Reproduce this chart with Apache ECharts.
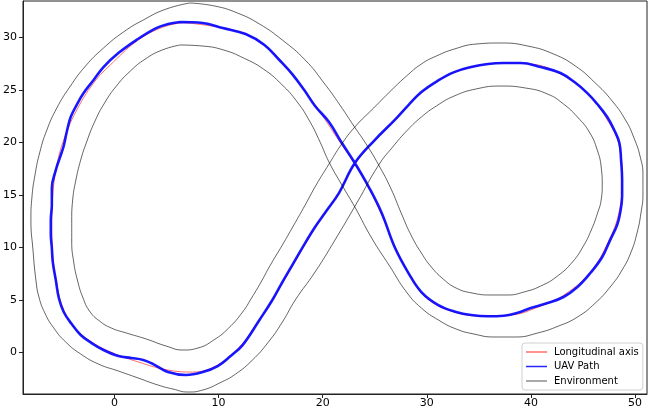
<!DOCTYPE html>
<html>
<head>
<meta charset="utf-8">
<script src="https://cdn.jsdelivr.net/npm/echarts@6/dist/echarts.min.js"></script>
<style>
html,body{margin:0;padding:0;background:#fff;}
#chart{width:648px;height:409px;}
</style>
</head>
<body>
<div id="chart"></div>
<script>
// Tick values
const xTicks = [0, 10, 20, 30, 40, 50];
const yTicks = [0, 5, 10, 15, 20, 25, 30];

// Longitudinal axis (track centre line)
const centerline = [
[6.58,31.43],[9.92,31.00],[12.79,30.24],[15.17,28.62],[17.08,26.43],[19.27,23.57],[21.85,19.76],[23.09,17.95],
[24.43,15.67],[25.67,13.10],[27.10,9.76],[28.53,7.10],[29.96,5.19],[32.35,3.95],[35.21,3.48],[38.07,3.57],
[40.94,4.43],[43.32,5.57],[45.71,7.67],[47.42,10.52],[48.47,13.38],[48.76,16.43],[48.47,19.76],[47.23,22.33],
[45.52,24.62],[43.03,26.43],[39.98,27.48],[37.12,27.57],[34.26,27.19],[31.87,26.33],[29.48,24.71],[27.10,22.33],
[25.00,20.14],[23.09,17.95],[21.56,15.19],[19.27,11.86],[17.27,8.52],[15.17,5.00],[13.74,2.81],[12.02,0.52],
[9.92,-1.19],[7.54,-1.86],[5.15,-1.67],[2.29,-0.90],[-0.57,0.14],[-2.48,1.19],[-3.91,2.43],[-4.87,4.05],
[-5.53,6.43],[-5.92,9.29],[-6.01,12.14],[-5.92,15.00],[-5.53,17.86],[-4.87,20.24],[-3.72,22.90],[-2.00,25.67],
[-0.10,27.67],[2.29,29.76],[4.68,31.00],[6.58,31.43]
];

// UAV path
const uavPath = [
[6.30,31.48],[8.49,31.38],[10.40,30.90],[12.60,30.33],[14.41,29.29],[15.84,27.86],[17.08,26.52],[18.23,25.00],
[19.27,23.48],[20.61,21.95],[21.85,19.95],[23.09,18.05],[24.43,15.76],[25.67,13.29],[26.91,10.05],[28.24,7.57],
[29.48,5.76],[31.11,4.52],[32.82,3.86],[34.26,3.57],[35.88,3.45],[37.40,3.50],[38.74,3.80],[39.98,4.24],
[41.60,4.71],[43.13,5.29],[44.47,6.24],[45.71,7.57],[46.85,9.10],[47.61,10.71],[48.28,12.14],[48.57,13.29],
[48.76,14.90],[48.76,16.43],[48.66,18.33],[48.50,19.95],[48.00,21.19],[47.33,22.43],[46.37,23.67],[45.42,24.71],
[44.18,25.76],[42.84,26.62],[40.94,27.19],[39.03,27.57],[37.40,27.57],[35.88,27.48],[34.26,27.19],[32.63,26.71],
[31.01,25.86],[29.48,24.81],[28.24,23.57],[26.91,22.14],[25.00,20.24],[23.09,18.05],[21.56,15.19],[20.42,13.57],
[19.27,11.95],[18.03,9.95],[17.08,8.33],[16.13,6.71],[15.17,5.00],[13.93,3.10],[12.31,0.71],[11.16,-0.33],
[9.92,-1.29],[8.49,-1.86],[6.87,-2.14],[5.15,-1.86],[3.72,-1.10],[2.77,-0.71],[1.62,-0.52],[0.38,-0.33],
[-1.05,0.24],[-2.19,0.90],[-3.24,1.67],[-4.10,2.71],[-4.87,3.86],[-5.34,5.19],[-5.63,6.90],[-5.92,8.62],
[-6.01,9.95],[-6.11,11.29],[-6.11,12.62],[-6.01,14.05],[-6.01,15.67],[-5.63,17.38],[-5.25,18.52],[-4.87,19.67],
[-4.58,21.00],[-4.20,22.43],[-3.63,23.57],[-2.96,24.71],[-2.00,25.95],[-1.05,27.19],[0.38,28.52],[2.10,29.76],
[4.01,30.90],[5.15,31.29],[6.30,31.48]
];

// Environment boundary: outer edge of left lobe joined to inner edge of right lobe
const envA = [
[7.25,33.29],[9.64,33.00],[11.83,32.33],[13.93,31.29],[16.13,29.76],[18.32,27.86],[20.13,25.67],[21.66,23.57],
[23.00,21.57],[24.24,19.76],[25.38,17.86],[26.53,15.67],[27.58,13.19],[28.53,11.10],[29.48,9.48],[30.44,8.14],
[31.58,7.00],[32.82,6.14],[34.35,5.67],[36.16,5.48],[37.79,5.48],[39.31,5.76],[40.94,6.33],[42.56,7.29],
[43.99,8.62],[45.04,10.14],[45.80,11.67],[46.37,13.19],[46.76,14.62],[46.85,15.95],[46.76,17.57],[46.37,19.29],
[45.61,21.00],[44.47,22.43],[43.13,23.67],[41.60,24.62],[39.50,25.19],[37.12,25.38],[34.73,25.10],[32.63,24.43],
[30.92,23.48],[29.48,22.43],[28.15,21.19],[26.72,19.57],[25.38,17.86],[23.28,14.24],[21.18,10.71],[19.27,7.67],
[17.37,5.00],[16.13,2.90],[14.79,1.00],[13.26,-0.71],[11.64,-2.05],[10.11,-2.90],[8.49,-3.57],[7.06,-3.76],
[5.63,-3.48],[4.20,-3.10],[2.29,-2.43],[0.38,-1.76],[-1.53,-1.10],[-3.24,-0.14],[-4.68,1.00],[-5.82,2.33],
[-6.68,3.76],[-7.25,5.29],[-7.54,6.90],[-7.82,9.76],[-8.02,12.62],[-7.92,14.81],[-7.63,16.90],[-7.16,19.10],
[-6.49,21.19],[-5.53,23.29],[-4.29,25.29],[-2.77,27.29],[-1.05,29.00],[0.86,30.52],[2.77,31.67],[4.96,32.71],
[7.25,33.29]
];

// Environment boundary: inner edge of left lobe joined to outer edge of right lobe
const envB = [
[6.30,29.29],[8.49,29.19],[10.50,28.81],[12.40,28.05],[14.31,27.00],[16.03,25.57],[17.56,23.86],[18.80,21.95],
[19.75,20.05],[20.61,18.14],[21.85,15.95],[23.09,13.86],[24.71,10.90],[26.43,8.24],[28.05,5.76],[29.48,4.24],
[31.11,3.10],[32.82,2.24],[34.54,1.76],[36.45,1.48],[38.55,1.48],[40.65,1.86],[42.65,2.52],[44.47,3.38],
[46.18,4.71],[47.61,6.24],[48.76,7.86],[49.62,9.57],[50.19,11.38],[50.57,13.29],[50.76,15.10],[50.76,16.90],
[50.48,18.71],[49.90,20.43],[49.14,22.05],[47.81,23.95],[46.09,25.76],[44.27,27.29],[42.18,28.43],[39.70,29.19],
[37.12,29.48],[34.73,29.38],[32.63,28.90],[30.92,28.24],[29.48,27.48],[28.05,26.33],[26.62,25.00],[24.90,23.29],
[23.09,21.48],[21.76,19.76],[20.61,17.95],[19.37,15.95],[18.32,14.05],[17.18,12.05],[16.13,10.24],[14.98,8.33],
[14.03,6.62],[13.17,5.19],[12.31,3.86],[10.97,2.33],[9.54,1.19],[8.02,0.43],[6.58,0.24],[4.96,0.62],
[3.05,1.29],[1.15,1.86],[-0.29,2.33],[-1.43,3.00],[-2.39,3.95],[-3.05,5.29],[-3.53,6.81],[-3.91,8.62],
[-4.10,10.62],[-4.10,12.62],[-4.01,14.52],[-3.72,16.33],[-3.24,18.33],[-2.67,20.05],[-1.91,21.95],[-0.95,23.76],
[0.19,25.38],[1.53,26.81],[2.96,27.95],[4.58,28.81],[6.30,29.29]
];

const chart = echarts.init(document.getElementById('chart'), null, {renderer: 'canvas'});
const font = 'DejaVu Sans';
const axisCommon = {
  type: 'value',
  splitLine: {show: false},
  axisLine: {show: true, onZero: false, lineStyle: {color: '#222', width: 1}},
  axisTick: {show: true, length: 4, lineStyle: {color: '#222', width: 1}}
};
const envStyle = {color: 'rgba(0,0,0,0.72)', width: 0.85};
chart.setOption({
  animation: false,
  backgroundColor: '#fff',
  textStyle: {fontFamily: font},
  grid: {left: 19, right: 1, top: 1, bottom: 15, show: true, borderColor: '#222', borderWidth: 1, backgroundColor: 'transparent'},
  xAxis: Object.assign({}, axisCommon, {
    min: -8.78, max: 51.15,
    axisTick: Object.assign({}, axisCommon.axisTick, {customValues: xTicks}),
    axisLabel: {customValues: xTicks, margin: 4, color: '#000', fontSize: 11, fontFamily: font}
  }),
  yAxis: Object.assign({}, axisCommon, {
    min: -3.95, max: 33.48,
    axisTick: Object.assign({}, axisCommon.axisTick, {customValues: yTicks}),
    axisLabel: {customValues: yTicks, margin: 6, color: '#000', fontSize: 11, fontFamily: font}
  }),
  legend: {
    orient: 'vertical',
    left: 522, top: 343,
    padding: [3, 4, 3, 4],
    itemGap: 2.5,
    itemWidth: 21,
    itemHeight: 1.5,
    icon: 'rect',
    borderColor: '#d0d0d0', borderWidth: 1, borderRadius: 3,
    backgroundColor: 'rgba(255,255,255,0.85)',
    textStyle: {fontSize: 10, fontFamily: font, color: '#000', lineHeight: 12, padding: [0, 0, 0, 2]},
    data: ['Longitudinal axis', 'UAV Path', 'Environment']
  },
  series: [
    {name: 'Longitudinal axis', type: 'line', data: centerline, symbol: 'none', smooth: 0.4,
     color: 'rgba(255,60,60,0.75)', lineStyle: {color: 'rgba(255,60,60,0.75)', width: 1}, z: 2},
    {name: 'UAV Path', type: 'line', data: uavPath, symbol: 'none', smooth: 0.4,
     color: 'rgba(0,0,255,0.85)', lineStyle: {color: 'rgba(0,0,255,0.9)', width: 2.6}, z: 3},
    {name: 'Environment', type: 'line', data: envA, symbol: 'none', smooth: 0.5,
     color: 'rgba(0,0,0,0.45)', lineStyle: envStyle, z: 4},
    {name: 'Environment', type: 'line', data: envB, symbol: 'none', smooth: 0.5,
     color: 'rgba(0,0,0,0.45)', lineStyle: envStyle, z: 4}
  ]
});
</script>
</body>
</html>
